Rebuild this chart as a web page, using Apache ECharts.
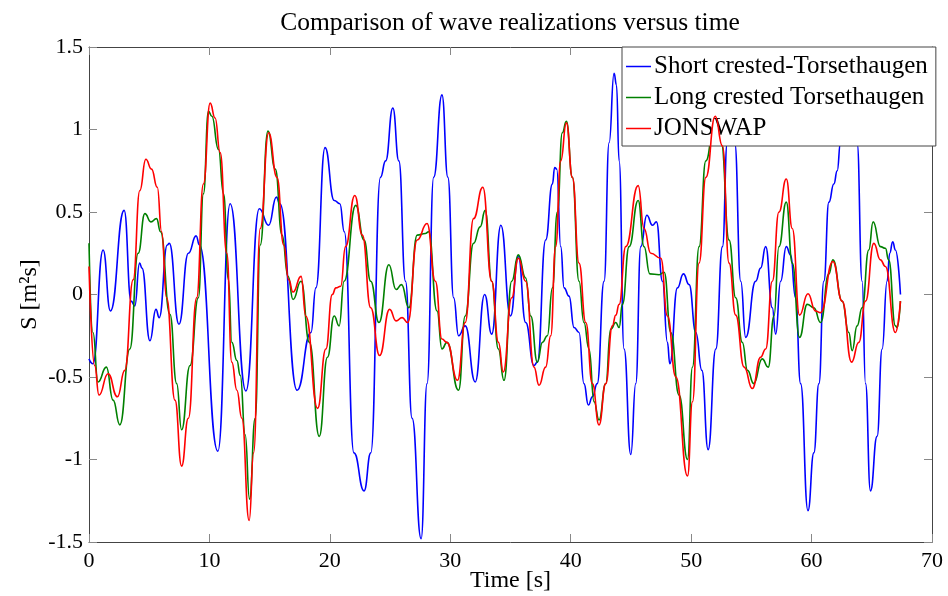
<!DOCTYPE html>
<html>
<head>
<meta charset="utf-8">
<script src="https://cdn.jsdelivr.net/npm/echarts@6/dist/echarts.min.js"></script>
<style>
  html, body { margin: 0; padding: 0; background: #fff; }
  #chart { width: 948px; height: 596px; }
</style>
</head>
<body>
<div id="chart"></div>
<script>
// Wave elevation time series: time [s] and value [m^2 s] pairs for each realization
const shortT = [0, 0.33, 1.17, 1.78, 2.92, 3.5, 3.8, 4.2, 4.4, 5.06, 5.56, 5.83, 6.5, 6.67, 7.47, 8.25, 8.9, 9.17,
  10.7, 11.72, 13.03, 14.14, 14.92, 15.56, 15.85, 17.28, 18.43, 18.84, 19.6, 20.36, 20.83, 21.2, 22.0, 22.84,
  23.4, 24.2, 24.63, 25.23, 25.73, 26.28, 26.83, 27.58, 28.07, 28.62, 29.31, 29.8, 30.28, 30.69, 31.24, 32.07,
  32.85, 33.44, 34.2, 35.0, 35.65, 36.26, 36.95, 37.23, 37.92, 38.48, 38.67, 38.84, 39.17, 39.45, 39.86, 40.28,
  40.69, 41.1, 41.47, 41.8, 42.2, 42.77, 43.19, 43.6, 43.8, 44.02, 44.43, 44.99, 45.4, 45.82, 46.32, 46.79,
  47.12, 47.62, 48.03, 48.23, 48.86, 49.36, 49.83, 50.39, 50.89, 51.41, 52.05, 52.6, 53.0, 53.3, 53.62, 54.12,
  54.53, 55.36, 55.77, 56.19, 56.74, 57.02, 57.43, 57.9, 58.26, 58.67, 59.09, 59.7, 60.19, 60.61, 61.02, 61.44,
  61.85, 62.13, 62.4, 63.2, 63.78, 64.2, 64.48, 64.89, 65.44, 65.86, 66.27, 66.49, 66.74, 66.96, 67.38];
const shortS = [-0.39, -0.42, 0.27, -0.10, 0.51, -0.04, -0.07, 0.19, 0.16, -0.28, -0.09, -0.14, 0.30, 0.31, -0.18, 0.25, 0.355, 0.30,
  -0.95, 0.55, -0.585, 0.52, 0.42, 0.59, 0.55, -0.58, -0.23, 0.04, 0.89, 0.57, 0.55, 0.38, -0.96, -1.19,
  -0.96, 0.71, 0.81, 1.13, 0.81, 0.08, -0.75, -1.48, -0.54, 0.71, 1.21, 0.71, -0.02, -0.25, -0.19, -0.53,
  0.0, -0.24, 0.42, -0.13, 0.23, -0.17, -0.43, -0.41, 0.33, 0.67, 0.77, 0.76, 0.29, 0.04, -0.01, -0.20,
  -0.23, -0.54, -0.67, -0.62, -0.54, 0.08, 0.92, 1.34, 1.27, 0.81, -0.33, -0.97, -0.54, 0.29, 0.48, 0.42,
  0.44, 0.08, -0.29, -0.42, 0.04, 0.125, 0.06, -0.23, -0.46, -0.94, -0.33, 0.29, 0.92, 1.38, 0.92, 0.08,
  -0.26, 0.08, 0.16, 0.29, -0.08, -0.24, 0.08, 0.29, 0.24, -0.02, -0.54, -1.31, -0.96, -0.54, 0.08, 0.56,
  0.67, 0.75, 0.92, 1.3, 0.92, 0.08, -0.54, -1.19, -0.86, -0.33, 0.08, 0.25, 0.32, 0.27, 0.0];

const longT = [0, 0.33, 0.75, 1.44, 2.0, 2.56, 3.39, 4.08, 4.64, 5.14, 5.61, 5.94, 6.72, 7.28, 7.69, 8.39, 9.08, 9.5,
  9.92, 10.2, 10.75, 11.17, 11.58, 11.86, 12.28, 12.56, 12.97, 13.33, 13.8, 14.22, 14.86, 15.47, 16.03, 16.53,
  16.94, 17.61, 18.3, 19.12, 19.8, 20.36, 20.77, 21.18, 22.15, 22.84, 23.39, 24.08, 24.9, 25.5, 25.95, 26.56,
  27.25, 27.93, 28.2, 28.9, 29.31, 29.72, 30.69, 31.24, 31.93, 32.48, 32.9, 33.44, 33.99, 34.46, 35.1, 35.65,
  36.26, 36.68, 37.23, 37.65, 38.06, 38.48, 38.89, 39.3, 39.64, 40.14, 40.69, 41.1, 41.52, 41.94, 42.35, 42.91,
  43.32, 43.74, 44.02, 44.29, 44.85, 45.6, 46.09, 46.57, 47.34, 47.76, 48.31, 49.0, 49.7, 50.11, 50.66, 51.22,
  51.9, 52.5, 53.15, 53.7, 54.25, 54.68, 55.2, 55.9, 56.4, 56.88, 57.29, 57.9, 58.4, 59.0, 59.64, 60.19, 60.75,
  61.44, 61.77, 62.54, 63.09, 63.37, 63.78, 64.2, 64.75, 65.11, 65.72, 66.13, 66.4, 66.96, 67.1, 67.38];
const longS = [0.31, -0.23, -0.53, -0.44, -0.64, -0.79, -0.33, 0.25, 0.49, 0.44, 0.46, 0.38, -0.12, -0.54, -0.82, -0.43, -0.02, 0.61,
  1.11, 1.08, 0.88, 0.61, 0.09, -0.29, -0.40, -0.49, -0.85, -1.24, -0.75, 0.3, 0.99, 0.76, 0.36, 0.11,
  -0.03, 0.08, -0.29, -0.86, -0.38, -0.13, -0.19, 0.08, 0.54, 0.33, 0.08, -0.17, 0.18, 0.03, 0.06, -0.08,
  0.36, 0.37, 0.38, -0.10, -0.33, -0.29, -0.58, -0.13, 0.31, 0.41, 0.51, 0.08, -0.33, -0.52, 0.08, 0.24,
  0.10, -0.13, -0.41, -0.29, -0.25, 0.04, 0.5, 0.98, 1.05, 0.71, 0.08, -0.17, -0.33, -0.65, -0.76, -0.54,
  -0.21, -0.17, -0.20, -0.06, 0.29, 0.57, 0.29, 0.125, 0.12, 0.135, -0.23, -0.61, -1.0, -0.44, 0.29, 0.81,
  1.02, 0.92, 0.33, -0.02, -0.29, -0.46, -0.54, -0.39, -0.44, -0.13, 0.29, 0.56, 0.19, -0.26, -0.06, -0.08, -0.17,
  0.125, 0.21, -0.04, -0.23, -0.34, -0.19, -0.08, 0.27, 0.44, 0.29, 0.28, 0.21, -0.19, -0.20, -0.04];

const jonswapT = [0, 0.47, 0.83, 1.58, 2.36, 2.97, 3.67, 4.22, 4.72, 5.19, 5.67, 6.03, 6.44, 7.14, 7.69, 8.25, 8.94, 9.5,
  10.06, 10.47, 10.89, 11.44, 11.86, 12.28, 12.69, 13.3, 13.67, 14.22, 14.92, 15.61, 16.17, 16.58, 16.94, 17.61,
  18.0, 18.98, 19.67, 20.2, 20.5, 20.9, 21.3, 22.07, 22.7, 23.39, 24.13, 24.96, 25.5, 26.0, 26.47, 27.25, 28.07,
  28.76, 29.31, 29.72, 30.6, 31.24, 31.93, 32.7, 33.44, 34.0, 34.4, 35.1, 35.65, 36.26, 36.95, 37.37, 37.92,
  38.34, 38.75, 39.17, 39.64, 40.14, 40.69, 41.25, 41.8, 42.35, 42.91, 43.46, 43.74, 44.02, 44.57, 45.6, 46.09,
  46.65, 47.48, 48.03, 48.73, 49.7, 50.11, 50.66, 51.22, 52.0, 52.6, 53.15, 53.7, 54.4, 55.08, 55.77, 56.19,
  56.74, 57.29, 57.9, 58.4, 59.0, 59.7, 60.33, 60.75, 61.77, 62.54, 63.32, 63.92, 64.48, 65.17, 65.72, 66.13,
  66.96, 67.38];
const jonswapS = [0.17, -0.43, -0.61, -0.48, -0.62, -0.46, 0.09, 0.63, 0.82, 0.76, 0.65, 0.38, -0.02, -0.64, -1.04, -0.75, -0.02, 0.67,
  1.16, 1.07, 0.86, 0.25, -0.41, -0.58, -0.75, -1.37, -0.96, 0.40, 0.98, 0.71, 0.30, 0.09, 0.015, 0.11,
  -0.13, -0.69, -0.33, 0.0, 0.04, 0.05, 0.29, 0.6, 0.36, -0.08, -0.37, -0.09, -0.16, -0.14, -0.17, 0.33, 0.43,
  0.08, -0.27, -0.29, -0.52, -0.17, 0.46, 0.65, 0.08, -0.29, -0.47, -0.02, 0.22, 0.08, -0.44, -0.55, -0.44,
  -0.25, 0.29, 0.81, 1.04, 0.71, 0.19, -0.17, -0.54, -0.79, -0.54, -0.19, -0.125, -0.06, 0.29, 0.66, 0.40,
  0.25, 0.22, -0.13, -0.5, -1.10, -0.65, 0.19, 0.71, 1.08, 0.9, 0.19, -0.125, -0.44, -0.57, -0.38, -0.33,
  0.08, 0.5, 0.70, 0.4, -0.125, 0.005, -0.10, -0.11, 0.20, -0.04, -0.41, -0.29, -0.04, 0.31, 0.21, 0.17,
  -0.23, -0.04];

const seriesNames = ['Short crested-Torsethaugen', 'Long crested Torsethaugen', 'JONSWAP'];
const seriesColors = ['#0000ff', '#008000', '#ff0000'];
const xTicks = [0, 70, 10];      // min, max, step
const yTicks = [-1.5, 1.5, 0.5]; // min, max, step

const FONT = "'Liberation Serif', 'Times New Roman', Times, serif";

function pairs(t, s) { return t.map((v, i) => [v, s[i]]); }

const chart = echarts.init(document.getElementById('chart'), null, { renderer: 'canvas' });

const axisLineStyle = { lineStyle: { color: '#444', width: 1 } };
const tickStyle = { show: true, inside: true, length: 8, lineStyle: { color: '#888', width: 1 } };

const baseX = { type: 'value', min: xTicks[0], max: xTicks[1], interval: xTicks[2],
  splitLine: { show: false }, axisLine: { show: true, onZero: false, ...axisLineStyle }, axisTick: tickStyle };
const baseY = { type: 'value', min: yTicks[0], max: yTicks[1], interval: yTicks[2],
  splitLine: { show: false }, axisLine: { show: true, onZero: false, ...axisLineStyle }, axisTick: tickStyle };

const data = [pairs(shortT, shortS), pairs(longT, longS), pairs(jonswapT, jonswapS)];

chart.setOption({
  animation: false,
  backgroundColor: '#fff',
  title: {
    text: 'Comparison of wave realizations versus time',
    left: 505, top: 5, textAlign: 'center',
    textStyle: { fontFamily: FONT, fontSize: 25.5, fontWeight: 'normal', color: '#000' }
  },
  grid: { left: 89, right: 16, top: 47, bottom: 54, containLabel: false, outerBoundsMode: 'none' },
  legend: {
    orient: 'vertical',
    left: 622, top: 47,
    padding: [4, 8, 2, 4],
    itemGap: 0,
    icon: 'rect',
    itemWidth: 25, itemHeight: 1.5,
    backgroundColor: '#fff',
    borderColor: '#444', borderWidth: 1,
    data: seriesNames,
    textStyle: { fontFamily: FONT, fontSize: 25, color: '#000', lineHeight: 31, padding: [0, 0, 0, -2] }
  },
  xAxis: [
    { ...baseX, position: 'bottom',
      name: 'Time [s]', nameLocation: 'middle', nameGap: 27, nameMoveOverlap: false,
      nameTextStyle: { fontFamily: FONT, fontSize: 24, color: '#000' },
      axisLabel: { fontFamily: FONT, fontSize: 22, color: '#000', margin: 8 } },
    { ...baseX, position: 'top', axisLabel: { show: false } }
  ],
  yAxis: [
    { ...baseY, position: 'left',
      name: 'S [m²s]', nameLocation: 'middle', nameGap: 47, nameRotate: 90, nameMoveOverlap: false,
      nameTextStyle: { fontFamily: FONT, fontSize: 24, color: '#000' },
      axisLabel: { fontFamily: FONT, fontSize: 22, color: '#000', margin: 6 } },
    { ...baseY, position: 'right', axisLabel: { show: false } }
  ],
  series: data.map((d, i) => ({
    name: seriesNames[i],
    type: 'line',
    xAxisIndex: 0, yAxisIndex: 0,
    data: d,
    symbol: 'none',
    smooth: 0.5,
    smoothMonotone: 'x',
    lineStyle: { color: seriesColors[i], width: 1.6 },
    itemStyle: { color: seriesColors[i] },
    z: 2 + i
  }))
});
</script>
</body>
</html>
